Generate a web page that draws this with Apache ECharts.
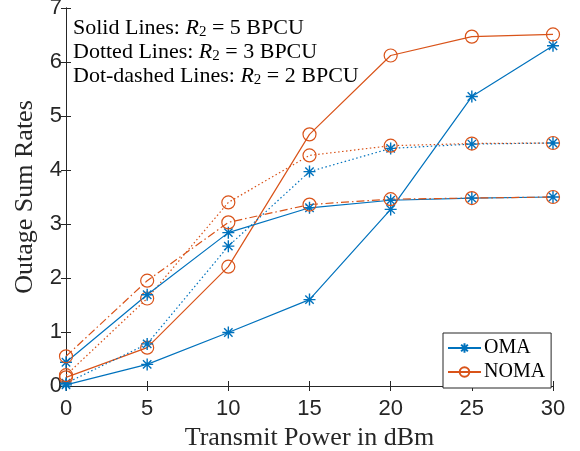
<!DOCTYPE html>
<html>
<head>
<meta charset="utf-8">
<script src="https://cdn.jsdelivr.net/npm/echarts@6/dist/echarts.min.js"></script>
<style>
  html, body { margin: 0; padding: 0; background: #fff; }
  #chart { width: 580px; height: 451px; }
</style>
</head>
<body>
<div id="chart"></div>
<script>
// transmit power (dBm)
const powerDbm = [0, 5, 10, 15, 20, 25, 30]
const yTicks = [0, 1, 2, 3, 4, 5, 6, 7]

// outage sum rates, R2 = 5 / 3 / 2 BPCU
const omaR5 = [0.02, 0.40, 0.99, 1.60, 3.27, 5.36, 6.30]
const nomaR5 = [0.16, 0.71, 2.21, 4.66, 6.12, 6.47, 6.51]
const omaR3 = [0.05, 0.78, 2.59, 3.97, 4.40, 4.48, 4.50]
const nomaR3 = [0.20, 1.62, 3.40, 4.27, 4.45, 4.49, 4.50]
const omaR2 = [0.44, 1.69, 2.84, 3.30, 3.44, 3.48, 3.50]
const nomaR2 = [0.55, 1.95, 3.03, 3.36, 3.46, 3.48, 3.50]

const BLUE = '#0072BD'
const ORANGE = '#D95319'
const AX = '#262626'
const SERIF = '"Liberation Serif", "Times New Roman", serif'
const SANS = '"Liberation Sans", Arial, sans-serif'

const star = 'path://M0,-10L0,10M-10,0L10,0M-7,-7L7,7M-7,7L7,-7'
const pairs = ys => powerDbm.map((x, i) => [x, ys[i]])

function mkSeries(name, ys, color, dash) {
  const isOma = name === 'OMA'
  return {
    name,
    type: 'line',
    data: pairs(ys),
    symbol: isOma ? star : 'circle',
    symbolSize: isOma ? 12 : 13,
    lineStyle: { color, width: 1.2, type: dash },
    itemStyle: isOma
      ? { color: BLUE, borderColor: BLUE, borderWidth: 1.4 }
      : { color: 'rgba(0,0,0,0)', borderColor: ORANGE, borderWidth: 1.2 },
    emphasis: { disabled: true },
    animation: false
  }
}

const hiddenAxis = {
  axisLabel: { show: false },
  axisLine: { lineStyle: { color: AX, width: 1 } },
  axisTick: { inside: true, length: 5, lineStyle: { color: AX } },
  splitLine: { show: false }
}

const chart = echarts.init(document.getElementById('chart'))
chart.setOption({
  backgroundColor: '#fff',
  grid: { left: 66, right: 27, top: 8, bottom: 65, outerBoundsMode: 'none', containLabel: false },
  xAxis: [{
    type: 'value', min: 0, max: 30, interval: 5,
    name: 'Transmit Power in dBm',
    nameLocation: 'middle', nameGap: 38,
    nameTextStyle: { fontFamily: SERIF, fontSize: 26, color: AX },
    axisLine: { lineStyle: { color: AX, width: 1 } },
    axisTick: { inside: true, length: 5, lineStyle: { color: AX } },
    axisLabel: { fontFamily: SANS, fontSize: 22, color: AX, margin: 12 },
    splitLine: { show: false }
  }, Object.assign({ type: 'value', min: 0, max: 30, interval: 5, position: 'top' }, hiddenAxis)],
  yAxis: [{
    type: 'value', min: yTicks[0], max: yTicks[yTicks.length - 1], interval: 1,
    name: 'Outage Sum Rates',
    nameLocation: 'middle', nameGap: 28,
    nameTextStyle: { fontFamily: SERIF, fontSize: 26, color: AX },
    axisLine: { lineStyle: { color: AX, width: 1 } },
    axisTick: { inside: true, length: 5, lineStyle: { color: AX } },
    axisLabel: { fontFamily: SANS, fontSize: 22, color: AX, margin: 4 },
    splitLine: { show: false }
  }, Object.assign({ type: 'value', min: 0, max: 7, interval: 1, position: 'right' }, hiddenAxis)],
  legend: {
    data: ['OMA', 'NOMA'],
    orient: 'vertical',
    left: 443, top: 333,
    padding: [5, 6, 6, 4],
    itemWidth: 33, itemHeight: 12, itemGap: 4,
    backgroundColor: '#fff',
    borderColor: AX, borderWidth: 1, borderRadius: 0,
    textStyle: { fontFamily: SERIF, fontSize: 20, color: '#000', padding: [0, 0, 0, -2] },
    selectedMode: false
  },
  graphic: [{
    type: 'text',
    left: 73, top: 16,
    style: {
      text: [
        'Solid Lines: {i|R}{s|2} = 5 BPCU',
        'Dotted Lines: {i|R}{s|2} = 3 BPCU',
        'Dot-dashed Lines: {i|R}{s|2} = 2 BPCU'
      ].join('\n'),
      fontFamily: SERIF, fontSize: 22, lineHeight: 24, fill: '#000',
      rich: {
        i: { fontFamily: SERIF, fontSize: 22, fontStyle: 'italic', lineHeight: 24 },
        s: { fontFamily: SERIF, fontSize: 15, lineHeight: 14, verticalAlign: 'bottom' }
      }
    },
    z: 10
  }],
  series: [
    mkSeries('OMA', omaR5, BLUE, 'solid'),
    mkSeries('NOMA', nomaR5, ORANGE, 'solid'),
    mkSeries('OMA', omaR3, BLUE, [1.5, 2.5]),
    mkSeries('NOMA', nomaR3, ORANGE, [1.5, 2.5]),
    mkSeries('OMA', omaR2, BLUE, 'solid'),
    mkSeries('NOMA', nomaR2, ORANGE, [8, 3, 1.5, 3])
  ]
})
</script>
</body>
</html>
